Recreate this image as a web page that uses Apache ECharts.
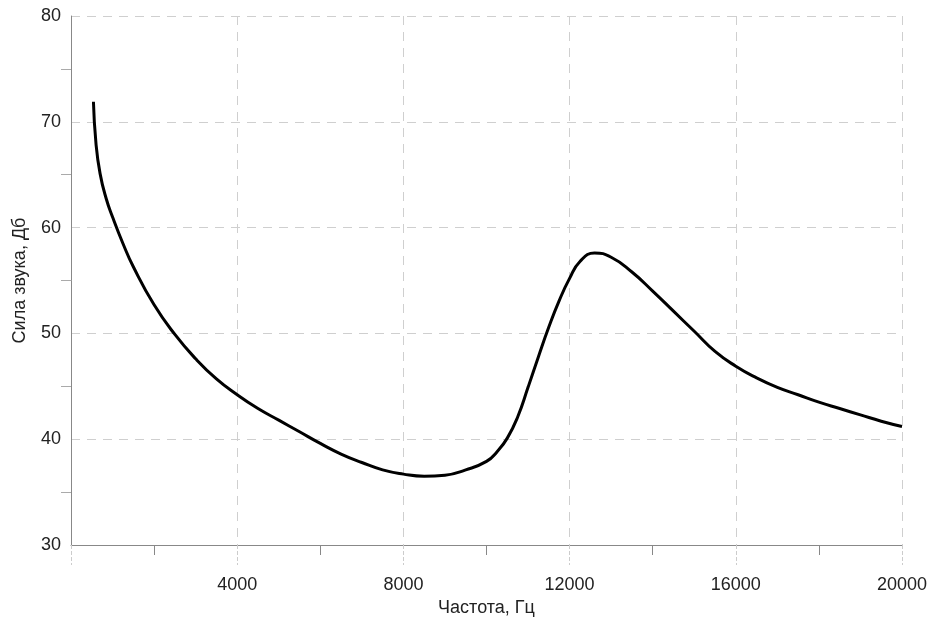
<!DOCTYPE html>
<html>
<head>
<meta charset="utf-8">
<script src="https://cdn.jsdelivr.net/npm/echarts@6/dist/echarts.min.js"></script>
<style>
  html, body { margin: 0; padding: 0; background: #fff; }
  #chart { width: 934px; height: 623px; }
</style>
</head>
<body>
<div id="chart"></div>
<script>
// частота, Гц
var freq = [540, 600, 700, 850, 1000, 1250, 1500, 2000, 2500, 3000, 3500, 4000,
  4500, 5000, 5500, 6000, 6500, 7000, 7500, 8000, 8500, 9000, 9500, 10000,
  10250, 10500, 10750, 11000, 11250, 11500, 11750, 12000, 12250, 12600,
  13000, 13500, 14000, 14500, 15000, 15500, 16000, 16500, 17000, 17500, 18000,
  18500, 19000, 19500, 20000];
// сила звука, Дб
var level = [71.9, 68.0, 65.1, 62.7, 61.0, 58.5, 56.3, 52.7, 49.9, 47.6, 45.7, 44.2,
  42.9, 41.8, 40.7, 39.6, 38.6, 37.8, 37.1, 36.7, 36.5, 36.6, 37.1, 37.9,
  38.8, 40.1, 42.1, 44.9, 47.8, 50.6, 53.1, 55.2, 56.8, 57.6,
  57.2, 55.8, 54.0, 52.1, 50.2, 48.3, 46.9, 45.8, 44.9, 44.2, 43.5,
  42.9, 42.3, 41.7, 41.2];

var points = freq.map(function (f, i) { return [f, level[i]]; });

var myChart = echarts.init(document.getElementById('chart'));
var font = 'Liberation Sans, Arial, sans-serif';

var option = {
  animation: false,
  grid: { left: 71, right: 32, top: 16, bottom: 78 },
  xAxis: {
    type: 'value',
    min: 0,
    max: 20000,
    interval: 4000,
    name: 'Частота, Гц',
    nameLocation: 'middle',
    nameGap: 53,
    nameTextStyle: { fontFamily: font, fontSize: 18, color: '#222' },
    axisLine: { lineStyle: { color: '#888', width: 1 } },
    axisTick: { show: true, length: 20, lineStyle: { color: '#ccc', type: 'dashed' } },
    minorTick: { show: true, splitNumber: 2, length: 10, lineStyle: { color: '#888' } },
    axisLabel: {
      showMinLabel: false,
      margin: 31,
      formatter: function (v) { return String(v); },
      fontFamily: font, fontSize: 18, color: '#222'
    },
    splitLine: { show: true, lineStyle: { color: '#cfcfcf', type: [9, 7], width: 1 } }
  },
  yAxis: {
    type: 'value',
    min: 30,
    max: 80,
    interval: 10,
    name: 'Сила звука, Дб',
    nameLocation: 'middle',
    nameGap: 42,
    nameTextStyle: { fontFamily: font, fontSize: 18, color: '#222' },
    axisLine: { show: true, lineStyle: { color: '#888', width: 1 } },
    axisTick: { show: false },
    minorTick: { show: true, splitNumber: 2, length: 10, lineStyle: { color: '#aaa' } },
    axisLabel: { margin: 10, fontFamily: font, fontSize: 18, color: '#222' },
    splitLine: { show: true, lineStyle: { color: '#cfcfcf', type: [9, 7], width: 1 } }
  },
  series: [{
    type: 'line',
    data: points,
    smooth: 0.5,
    showSymbol: false,
    lineStyle: { color: '#000', width: 3 }
  }]
};

myChart.setOption(option);
</script>
</body>
</html>
